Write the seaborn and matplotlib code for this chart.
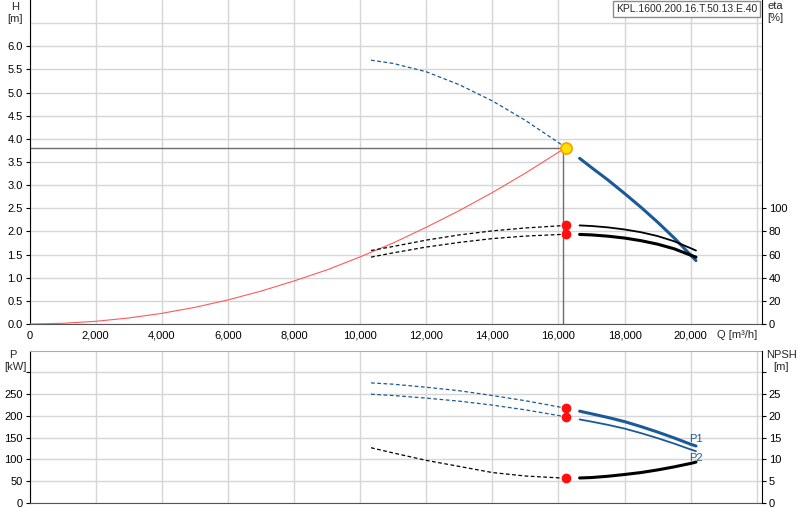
import numpy as np
import pandas as pd
import matplotlib
matplotlib.use("Agg")
import matplotlib.pyplot as plt
import seaborn as sns

# Kennlinien-Daten
q_dash = [10330, 11000, 12000, 13000, 14000, 15000, 16000, 16220]
q_solid = [16640, 17000, 17500, 18000, 18500, 19000, 19500, 20000, 20160]

h_dash = [5.70, 5.63, 5.45, 5.17, 4.82, 4.40, 3.92, 3.81]
h_solid = [3.58, 3.38, 3.11, 2.82, 2.52, 2.20, 1.86, 1.49, 1.37]

eta1_dash = [63.5, 67.0, 72.5, 77.0, 80.5, 83.0, 84.8, 85.2]
eta1_solid = [85.2, 84.7, 83.5, 81.7, 79.3, 76.0, 71.5, 65.5, 63.5]
eta2_dash = [57.8, 61.5, 66.5, 70.5, 73.8, 76.0, 77.3, 77.5]
eta2_solid = [77.4, 77.0, 75.9, 74.3, 72.0, 69.0, 65.0, 59.5, 57.8]

p1_dash = [276, 273, 266, 258, 247, 235, 221, 218]
p1_solid = [211, 205, 196.5, 187, 175.5, 163, 149.5, 135, 131]
p2_dash = [250, 247, 241, 234, 225, 214, 201, 198]
p2_solid = [192, 187, 179.5, 171, 160.5, 149, 136.5, 123, 119]

npsh_dash = [12.7, 11.5, 9.8, 8.4, 7.0, 6.2, 5.78, 5.73]
npsh_solid = [5.75, 5.85, 6.15, 6.55, 7.0, 7.6, 8.3, 9.1, 9.4]

# Anlagenkennlinie
q_sys = [0, 1000, 2000, 3000, 4000, 5000, 6000, 7000, 8000, 9000, 10000,
         11000, 12000, 13000, 14000, 15000, 16000, 16220]
h_sys = [0.0, 0.015, 0.058, 0.13, 0.23, 0.36, 0.52, 0.71, 0.93, 1.17, 1.45,
         1.75, 2.09, 2.45, 2.84, 3.26, 3.71, 3.81]

# Betriebspunkt
q_op = 16220
q_op_line = 16150
h_op = 3.81
eta_op = [85.2, 77.5]
p_op = [218, 198]
npsh_op = 5.73

pump_name = "KPL.1600.200.16.T.50.13.E.40"
q_ticks = list(range(0, 22001, 2000))
h_ticks = [0.0, 0.5, 1.0, 1.5, 2.0, 2.5, 3.0, 3.5, 4.0, 4.5, 5.0, 5.5, 6.0]
eta_ticks = [0, 20, 40, 60, 80, 100]
p_ticks = [0, 50, 100, 150, 200, 250, 300]
npsh_ticks = [0, 5, 10, 15, 20, 25, 30]

sns.set_style("white")
plt.rcParams['font.family'] = ['Liberation Sans', 'DejaVu Sans']
plt.rcParams['font.size'] = 8

blue = "#1b5a98"
grid_c = "#d6d6d6"
dash = (0, (3, 2))

fig = plt.figure(figsize=(8, 5.2), dpi=100)
ax1 = fig.add_axes([0.0369, 0.3769, 0.9153, 0.6231])
ax2 = fig.add_axes([0.0369, 0.0327, 0.9153, 0.2929])
ax1r = ax1.twinx()
ax2r = ax2.twinx()

for ax in (ax1, ax2):
    ax.set_xlim(0, 22150)
    ax.set_xticks(q_ticks)
    ax.grid(True, color=grid_c, lw=1)
    ax.set_axisbelow(True)
    ax.tick_params(direction="out", length=3, width=0.8, colors="black", labelsize=8, pad=2)
    for s in ax.spines.values():
        s.set_color("#555555")
    ax.spines["left"].set_color("black")
    ax.spines["right"].set_visible(False)

for ax in (ax1r, ax2r):
    ax.grid(False)
    ax.tick_params(direction="out", length=3, width=0.8, colors="black", labelsize=8, pad=2)
    for s in ax.spines.values():
        s.set_visible(False)
    ax.spines["right"].set_visible(True)
    ax.spines["right"].set_color("black")

# ---- oberes Diagramm: H und eta
ax1.set_ylim(0, 7)
ax1.set_yticks(h_ticks)
ax1.set_yticklabels([f"{v:.1f}" for v in h_ticks])
ax1.axhline(6.5, color=grid_c, lw=1, zorder=0)
ax1.set_xticklabels([f"{v:,}" if v < 22000 else "" for v in q_ticks])
ax1.spines["top"].set_visible(False)

ax1r.set_ylim(0, 280)
ax1r.set_yticks(eta_ticks)

ax1.plot([0, q_op], [h_op, h_op], color="#6e6e6e", lw=1, zorder=2)
ax1.plot([q_op_line, q_op_line], [0, h_op], color="#6e6e6e", lw=1, zorder=2)

sns.lineplot(x=q_sys, y=h_sys, ax=ax1, color="#ff5a5a", lw=0.8, zorder=3)
sns.lineplot(x=q_dash, y=h_dash, ax=ax1, color=blue, lw=0.9, linestyle=dash, zorder=3)
sns.lineplot(x=q_solid, y=h_solid, ax=ax1, color=blue, lw=2.2, zorder=3)
ax1.plot([q_op], [h_op], marker="o", ms=8, color="#ffe000", mec="#ff9a00", mew=1.2, zorder=5)

sns.lineplot(x=q_dash, y=eta1_dash, ax=ax1r, color="black", lw=0.9, linestyle=dash)
sns.lineplot(x=q_solid, y=eta1_solid, ax=ax1r, color="black", lw=1.3)
sns.lineplot(x=q_dash, y=eta2_dash, ax=ax1r, color="black", lw=0.9, linestyle=dash)
sns.lineplot(x=q_solid, y=eta2_solid, ax=ax1r, color="black", lw=2.2)
ax1r.plot([q_op] * 2, eta_op, "o", ms=6, color="#ff1010", zorder=5)

ax1.set_xlabel("")
ax1.set_ylabel("")
ax1r.set_ylabel("")

# ---- unteres Diagramm: P und NPSH
ax2.set_ylim(0, 350)
ax2.set_yticks(p_ticks)
ax2.set_yticklabels([str(v) if v < 300 else "" for v in p_ticks])
ax2.set_xticklabels([])
ax2.tick_params(axis="x", length=0)
ax2.spines["top"].set_color("#aaaaaa")

ax2r.set_ylim(0, 35)
ax2r.set_yticks(npsh_ticks)
ax2r.set_yticklabels([str(v) if v < 30 else "" for v in npsh_ticks])

sns.lineplot(x=q_dash, y=p1_dash, ax=ax2, color=blue, lw=0.9, linestyle=dash, zorder=3)
sns.lineplot(x=q_solid, y=p1_solid, ax=ax2, color=blue, lw=2.2, zorder=3)
sns.lineplot(x=q_dash, y=p2_dash, ax=ax2, color=blue, lw=0.9, linestyle=dash, zorder=3)
sns.lineplot(x=q_solid, y=p2_solid, ax=ax2, color=blue, lw=1.3, zorder=3)
ax2.plot([q_op] * 2, p_op, "o", ms=6, color="#ff1010", zorder=5)

sns.lineplot(x=q_dash, y=npsh_dash, ax=ax2r, color="black", lw=0.9, linestyle=dash)
sns.lineplot(x=q_solid, y=npsh_solid, ax=ax2r, color="black", lw=2.2)
ax2r.plot([q_op], [npsh_op], "o", ms=6, color="#ff1010", zorder=5)

ax2.text(q_solid[-1], p1_solid[-1] + 5, "P1", color=blue, fontsize=8, ha="center", va="bottom")
ax2.text(q_solid[-1], p2_solid[-1] - 3, "P2", color=blue, fontsize=8, ha="center", va="top")

ax2.set_xlabel("")
ax2.set_ylabel("")
ax2r.set_ylabel("")

# ---- Achsenbeschriftungen
fig.text(15 / 800, 1 - 7 / 520, "H", ha="center", va="center", fontsize=8)
fig.text(15 / 800, 1 - 19 / 520, "[m]", ha="center", va="center", fontsize=8)
fig.text(767 / 800, 1 - 6 / 520, "eta", ha="left", va="center", fontsize=8)
fig.text(767 / 800, 1 - 18 / 520, "[%]", ha="left", va="center", fontsize=8)
fig.text(757 / 800, 1 - 335 / 520, "Q [m³/h]", ha="right", va="center", fontsize=8)
fig.text(13 / 800, 1 - 355 / 520, "P", ha="center", va="center", fontsize=8)
fig.text(15 / 800, 1 - 367 / 520, "[kW]", ha="center", va="center", fontsize=8)
fig.text(766 / 800, 1 - 355 / 520, "NPSH", ha="left", va="center", fontsize=8)
fig.text(773 / 800, 1 - 367 / 520, "[m]", ha="left", va="center", fontsize=8)

fig.text(757 / 800, 1 - 9 / 520, pump_name, ha="right", va="center", fontsize=7.5,
         bbox=dict(boxstyle="square,pad=0.3", fc="white", ec="#8c8c8c", lw=1))

fig.savefig("out.png", dpi=100)
